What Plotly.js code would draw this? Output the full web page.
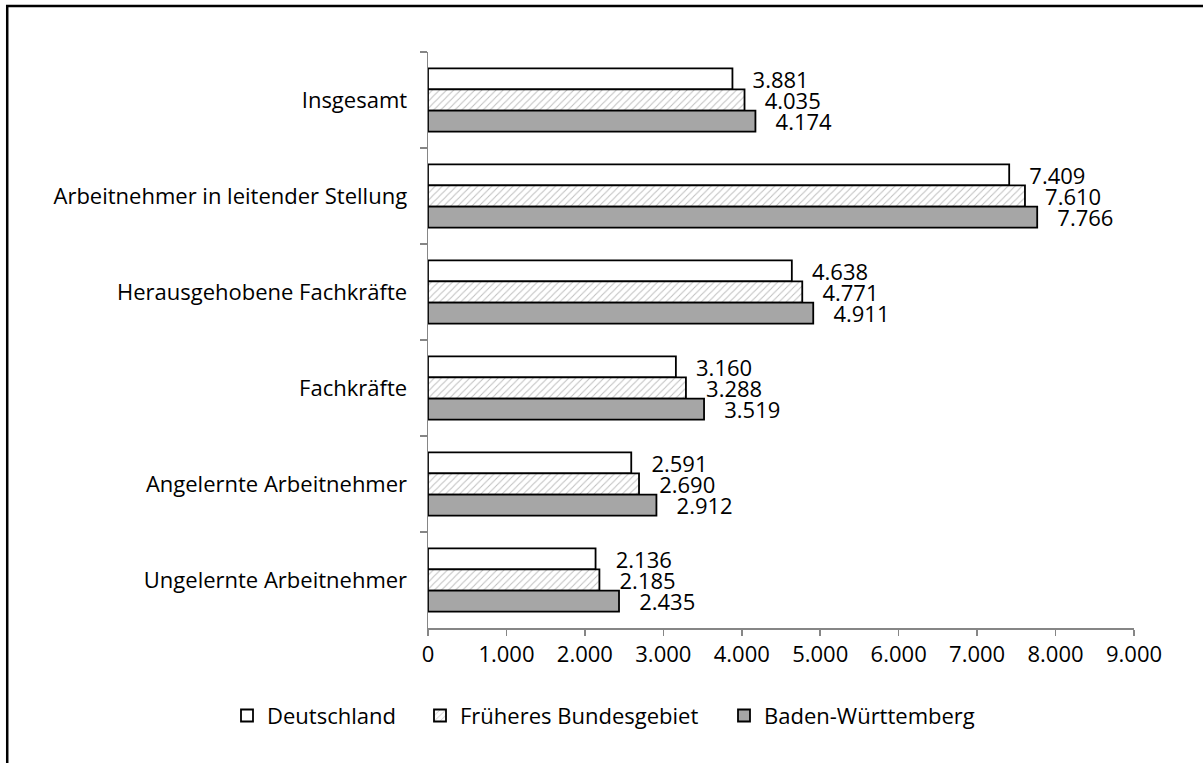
<!DOCTYPE html>
<html>
<head>
<meta charset="utf-8">
<script src="https://cdn.plot.ly/plotly-3.0.1.min.js"></script>
<style>html,body{margin:0;padding:0;background:#fff;}#chart{width:1203px;height:763px;}</style>
</head>
<body>
<div id="chart"></div>
<script>
const categories = ["Insgesamt", "Arbeitnehmer in leitender Stellung", "Herausgehobene Fachkräfte", "Fachkräfte", "Angelernte Arbeitnehmer", "Ungelernte Arbeitnehmer"];
const deutschland = [3881, 7409, 4638, 3160, 2591, 2136];
const fruehBund = [4035, 7610, 4771, 3288, 2690, 2185];
const badenWuerttemberg = [4174, 7766, 4911, 3519, 2912, 2435];
const seriesNames = ["Deutschland", "Früheres Bundesgebiet", "Baden-Württemberg"];
const xTickVals = [0, 1000, 2000, 3000, 4000, 5000, 6000, 7000, 8000, 9000];
const xTickText = ["0", "1.000", "2.000", "3.000", "4.000", "5.000", "6.000", "7.000", "8.000", "9.000"];

const FONT = "'Open Sans', sans-serif";
function fmt(v) { return "\u00a0\u00a0\u00a0" + v.toLocaleString("de-DE"); }

function mk(name, vals, marker, legendId) {
  return {
    type: "bar", orientation: "h", name: name, legend: legendId,
    x: vals, y: categories,
    text: vals.map(fmt), textposition: "outside", cliponaxis: false,
    constraintext: "none",
    textfont: {family: FONT, size: 22, color: "#000"},
    marker: marker, hoverinfo: "skip"
  };
}

const data = [
  mk(seriesNames[0], deutschland, {color: "#ffffff", line: {color: "#000", width: 1.8}}, "legend"),
  mk(seriesNames[1], fruehBund, {color: "#ffffff", line: {color: "#000", width: 1.8},
     pattern: {shape: "/", fgcolor: "#bfbfbf", bgcolor: "#ffffff", size: 5, solidity: 0.2}}, "legend2"),
  mk(seriesNames[2], badenWuerttemberg, {color: "#a6a6a6", line: {color: "#000", width: 1.8}}, "legend3")
];

function leg(xpx) {
  return {orientation: "h", xref: "container", x: xpx / 1203, xanchor: "left",
          yref: "container", y: 0.062, yanchor: "middle",
          font: {family: FONT, size: 22}, itemwidth: 30, bgcolor: "rgba(0,0,0,0)"};
}

const layout = {
  width: 1203, height: 763,
  margin: {l: 428, r: 69, t: 52, b: 135},
  paper_bgcolor: "#fff", plot_bgcolor: "#fff",
  font: {family: FONT, size: 22, color: "#000"},
  barmode: "group", bargap: 0.34, bargroupgap: 0,
  showlegend: true,
  legend: leg(227), legend2: leg(420), legend3: leg(724),
  xaxis: {range: [0, 9000], tickvals: xTickVals, ticktext: xTickText,
          showgrid: false, zeroline: false, showline: true, linecolor: "#868686", linewidth: 1.5,
          ticks: "outside", ticklen: 6, tickcolor: "#868686", tickwidth: 1.5,
          tickfont: {family: FONT, size: 22}, fixedrange: true},
  yaxis: {type: "category", autorange: "reversed", categoryorder: "array", categoryarray: categories,
          showgrid: false, zeroline: false, showline: true, linecolor: "#868686", linewidth: 1.5,
          ticks: "outside", ticklen: 7, tickcolor: "#868686", tickwidth: 1.5, tickson: "boundaries",
          tickfont: {family: FONT, size: 22}, ticklabelstandoff: 15, fixedrange: true},
  shapes: [{type: "path", xref: "paper", yref: "paper",
            path: "M -0.596,-0.3 L -0.596,1.0799 L 1.2,1.0799",
            line: {color: "#000", width: 2.5}}]
};

Plotly.newPlot("chart", data, layout, {displayModeBar: false, staticPlot: true});
</script>
</body>
</html>
